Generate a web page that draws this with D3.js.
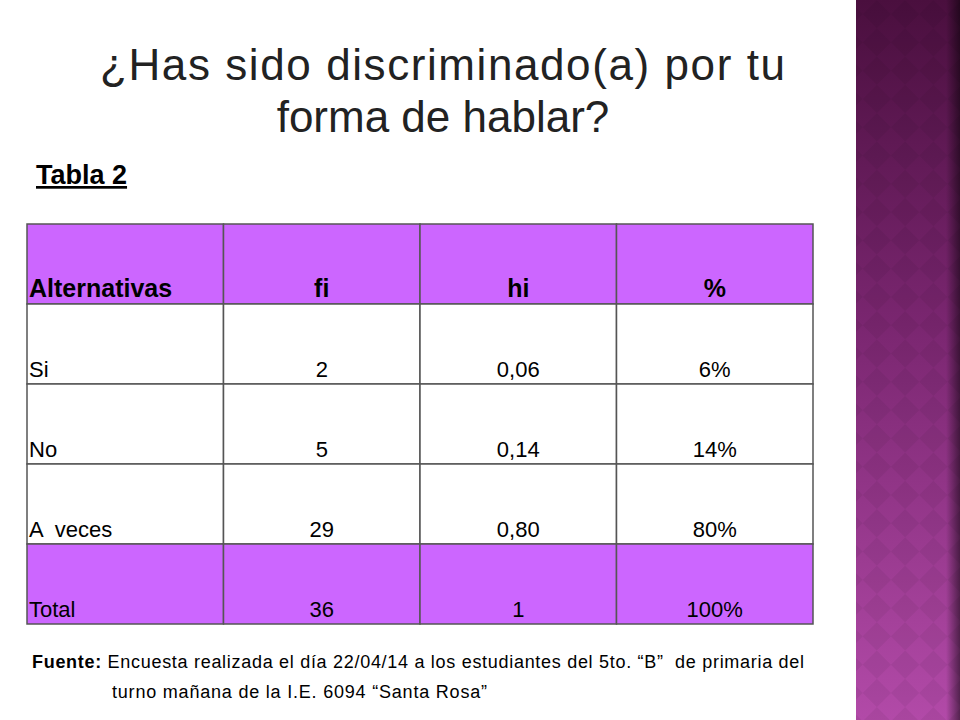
<!DOCTYPE html>
<html><head><meta charset="utf-8">
<script src="https://cdn.jsdelivr.net/npm/d3@7"></script>
<style>body{margin:0;background:#fff} text{white-space:pre}</style>
</head><body>
<script>
// table content
var headers = ["Alternativas", "fi", "hi", "%"];
var categories = ["Si", "No", "A  veces", "Total"];
var fi = ["2", "5", "29", "36"];
var hi = ["0,06", "0,14", "0,80", "1"];
var pct = ["6%", "14%", "80%", "100%"];

var svg = d3.select("body").append("svg").attr("width", 960).attr("height", 720);
var defs = svg.append("defs");
var grad = defs.append("linearGradient").attr("id", "band").attr("x1", 0).attr("y1", 0).attr("x2", 0).attr("y2", 1);
grad.append("stop").attr("offset", "0%").attr("stop-color", "#4a0f3e");
grad.append("stop").attr("offset", "45%").attr("stop-color", "#7a2670");
grad.append("stop").attr("offset", "100%").attr("stop-color", "#b24aa8");
var pat = defs.append("pattern").attr("id", "diam").attr("width", 40).attr("height", 40)
    .attr("patternUnits", "userSpaceOnUse").attr("patternTransform", "rotate(45)");
pat.append("rect").attr("width", 20).attr("height", 20).attr("fill", "#000").attr("opacity", 0.05);
pat.append("rect").attr("x", 20).attr("y", 20).attr("width", 20).attr("height", 20).attr("fill", "#000").attr("opacity", 0.05);
var edge = defs.append("linearGradient").attr("id", "edge");
edge.append("stop").attr("offset", "0%").attr("stop-color", "#000").attr("stop-opacity", 0);
edge.append("stop").attr("offset", "100%").attr("stop-color", "#000").attr("stop-opacity", 0.5);

svg.append("rect").attr("x", 856).attr("width", 104).attr("height", 720).attr("fill", "url(#band)");
svg.append("rect").attr("x", 856).attr("width", 104).attr("height", 720).attr("fill", "url(#diam)");
svg.append("rect").attr("x", 946).attr("width", 14).attr("height", 720).attr("fill", "url(#edge)");

var font = "Liberation Sans, Arial";
svg.append("text").attr("x", 100).attr("y", 80).attr("textLength", 685)
    .attr("font-family", font).attr("font-size", 44).attr("fill", "#222")
    .text("¿Has sido discriminado(a) por tu");
svg.append("text").attr("x", 443).attr("y", 132).attr("text-anchor", "middle")
    .attr("font-family", font).attr("font-size", 44).attr("fill", "#222")
    .text("forma de hablar?");
svg.append("text").attr("x", 36).attr("y", 184)
    .attr("font-family", font).attr("font-size", 27).attr("font-weight", "bold")
    .attr("text-decoration", "underline").text("Tabla 2");

var x = d3.scaleBand().domain(d3.range(4)).range([27, 813]);
var y = d3.scaleBand().domain(d3.range(5)).range([224, 624]);
var rows = [headers].concat(categories.map(function(c, i) { return [c, fi[i], hi[i], pct[i]]; }));

rows.forEach(function(r, ri) {
    var g = svg.append("g");
    g.selectAll("rect").data(r).enter().append("rect")
        .attr("x", function(d, ci) { return x(ci); })
        .attr("y", y(ri)).attr("width", x.bandwidth()).attr("height", y.bandwidth())
        .attr("fill", (ri === 0 || ri === 4) ? "#cc66ff" : "#fff")
        .attr("stroke", "#555").attr("stroke-width", 1.5);
    g.selectAll("text").data(r).enter().append("text")
        .attr("x", function(d, ci) { return ci === 0 ? x(ci) + 2 : x(ci) + x.bandwidth() / 2; })
        .attr("text-anchor", function(d, ci) { return ci === 0 ? "start" : "middle"; })
        .attr("y", y(ri) + y.bandwidth() - 7)
        .attr("font-family", font)
        .attr("font-size", ri === 0 ? 25 : 22)
        .attr("font-weight", ri === 0 ? "bold" : "normal")
        .text(function(d) { return d; });
});

svg.append("text").attr("x", 32).attr("y", 668).attr("textLength", 772)
    .attr("font-family", font).attr("font-size", 18)
    .call(function(t) {
        t.append("tspan").attr("font-weight", "bold").text("Fuente: ");
        t.append("tspan").text("Encuesta realizada el día 22/04/14 a los estudiantes del 5to. “B”  de primaria del");
    });
svg.append("text").attr("x", 112).attr("y", 698).attr("textLength", 375)
    .attr("font-family", font).attr("font-size", 18)
    .text("turno mañana de la I.E. 6094 “Santa Rosa”");
</script>
</body></html>
